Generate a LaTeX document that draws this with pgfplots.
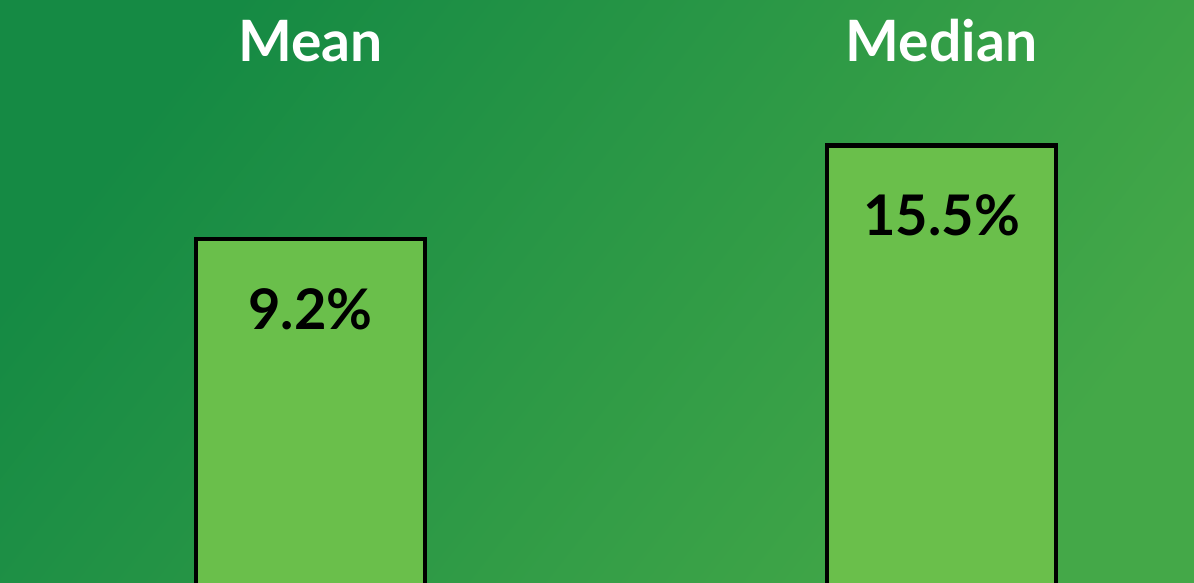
\documentclass[border=0pt]{standalone}
\usepackage{pgfplots}
\pgfplotsset{compat=1.18}
\usepackage{fontspec}
\setmainfont{Lato}
\definecolor{bgTL}{HTML}{158A44}
\definecolor{bgBR}{HTML}{44A848}
\definecolor{barfill}{HTML}{6ABF4B}
\begin{document}
\begin{tikzpicture}
\path[use as bounding box] (0,0) rectangle (597pt,291.5pt);
\clip (0,0) rectangle (597pt,291.5pt);
\shade[left color=bgTL, right color=bgBR, shading angle=52]
  (0,0) rectangle (597pt,291.5pt);
\begin{axis}[
 at={(0,-3pt)}, anchor=south west,
 scale only axis, width=597pt, height=294.5pt,
 ymode=log, log origin y=infty,
 ymin=1.306, ymax=34.9,
 xmin=-0.492, xmax=1.4,
 ybar, bar width=114.5pt,
 axis line style={draw=none},
 major tick style={draw=none},
 ytick=\empty, yminorticks=false,
 xtick={0,1}, xticklabels={Mean,Median},
 xticklabel pos=upper,
 xticklabel style={text=white, font=\fontsize{28.5}{32}\selectfont\bfseries,
   anchor=base, yshift=-35pt},
 nodes near coords,
 point meta=explicit symbolic,
 nodes near coords style={text=black, font=\fontsize{28}{32}\selectfont\bfseries,
   anchor=base, yshift=-45pt},
]
\addplot[fill=barfill, draw=black, line width=2.2pt]
  coordinates {(0,9.2) [9.2\%] (1,15.5) [15.5\%]};
\end{axis}
\end{tikzpicture}
\end{document}
